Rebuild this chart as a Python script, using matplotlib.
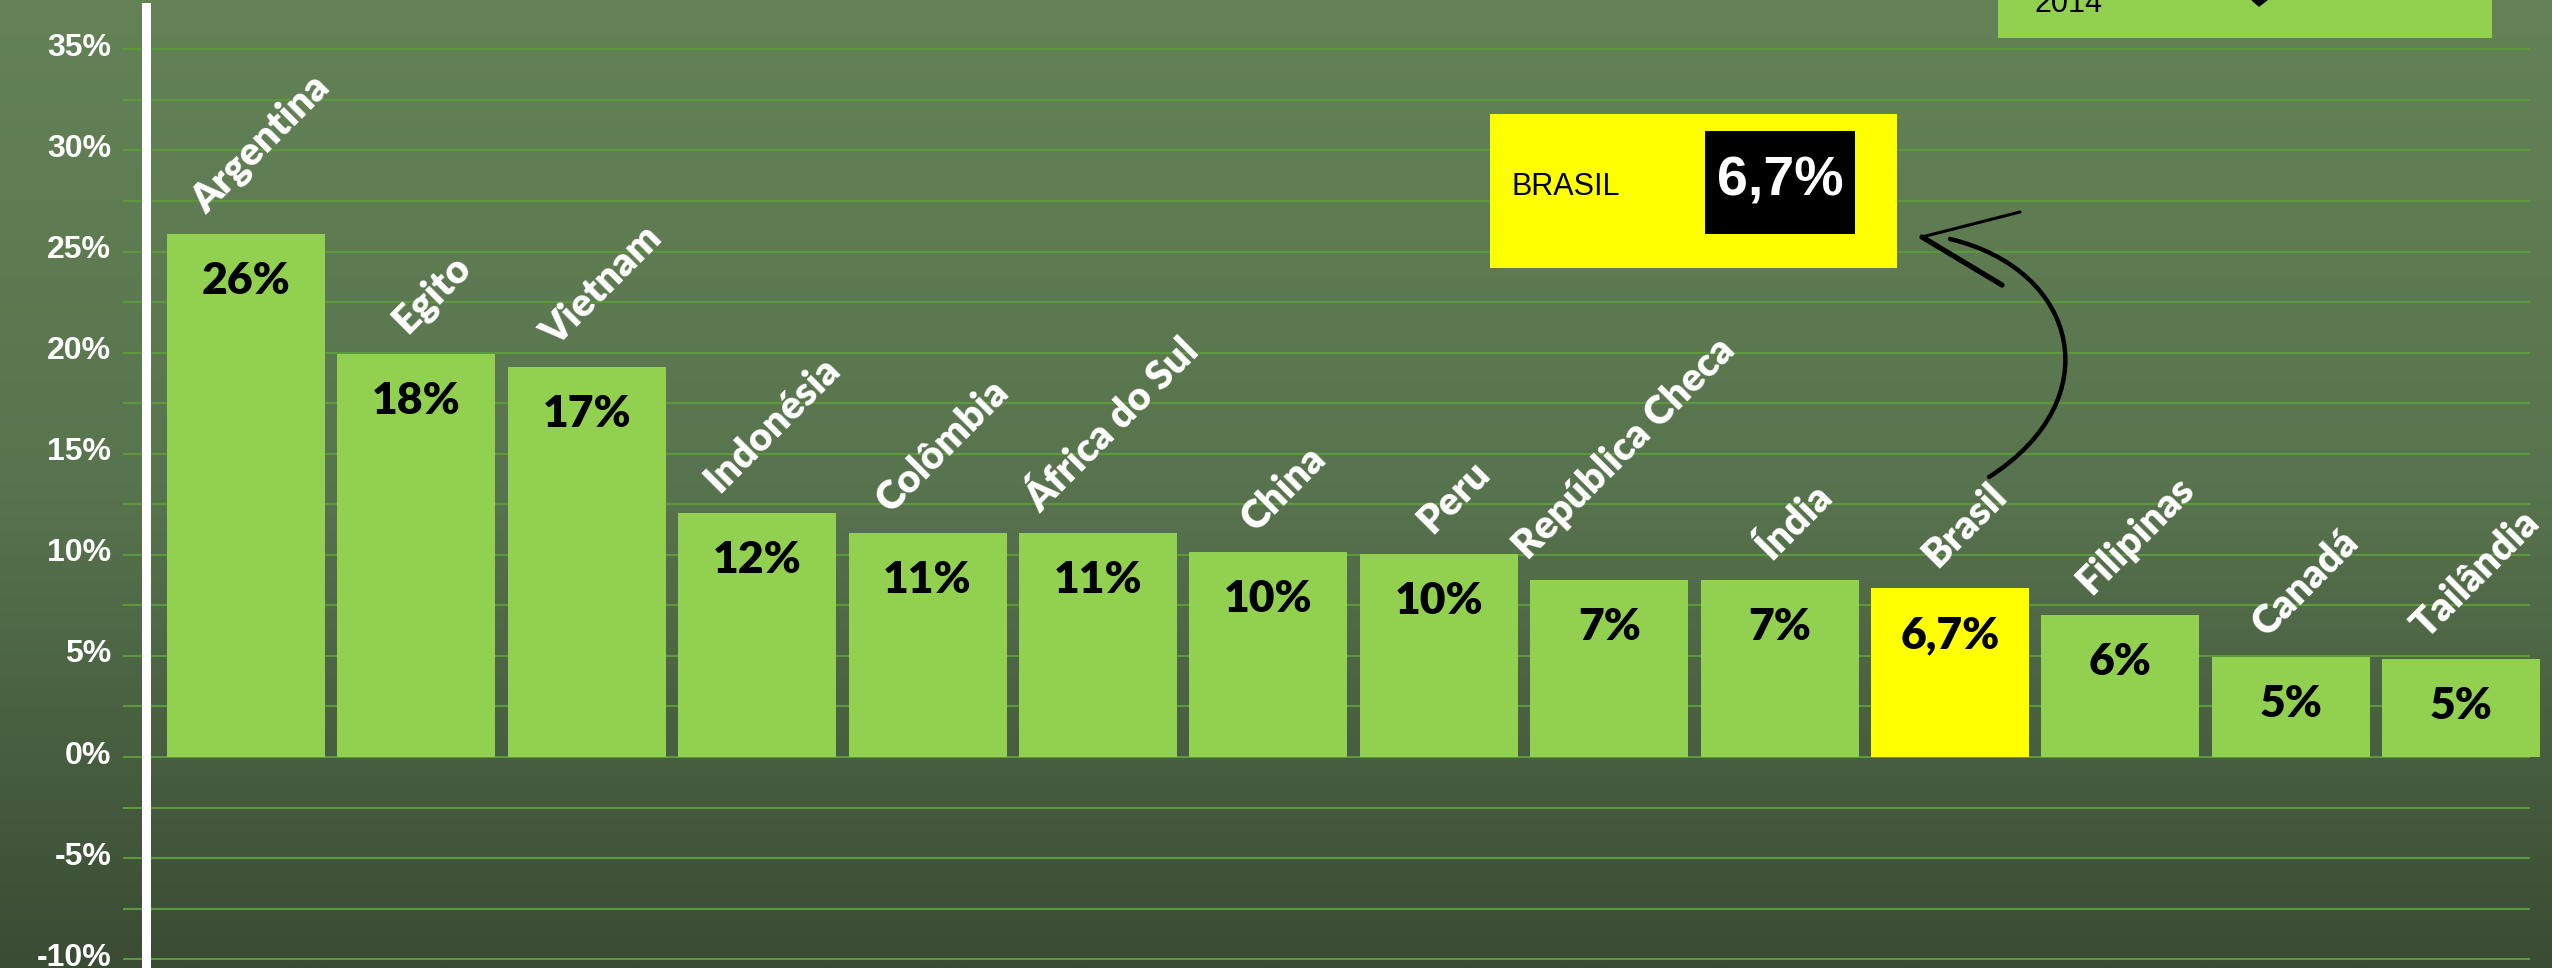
import numpy as np
import matplotlib
matplotlib.use("Agg")
import matplotlib.pyplot as plt
from matplotlib.patches import Rectangle, PathPatch, Polygon
from matplotlib.path import Path
from matplotlib.lines import Line2D
from matplotlib.transforms import ScaledTranslation

# ---------------- data ----------------
categories = ["Argentina", "Egito", "Vietnam", "Indonésia", "Colômbia", "África do Sul",
              "China", "Peru", "República Checa", "Índia", "Brasil", "Filipinas",
              "Canadá", "Tailândia"]
bar_heights = [25.85, 19.95, 19.3, 12.05, 11.1, 11.1, 10.12, 10.05, 8.75, 8.75, 8.36,
               7.0, 4.93, 4.84]
value_labels = ["26%", "18%", "17%", "12%", "11%", "11%", "10%", "10%", "7%", "7%",
                "6,7%", "6%", "5%", "5%"]
highlight = "Brasil"
y_ticks = [-10, -5, 0, 5, 10, 15, 20, 25, 30, 35]
y_tick_labels = [f"{v}%" for v in y_ticks]
callout_country = "BRASIL"
callout_value = "6,7%"
corner_text = "2014"

# ---------------- figure ----------------
W, H = 2552, 968
DPI = 100
PT = 72 / DPI  # points per pixel
fig = plt.figure(figsize=(W / DPI, H / DPI), dpi=DPI)

# background gradient
bg = fig.add_axes([0, 0, 1, 1], zorder=0)
t = np.linspace(0, 1, 500)
stops = [0.0, 0.5, 1.0]
cols = np.array([[100, 130, 86], [88, 116, 78], [58, 76, 52]]) / 255.0
grad = np.stack([np.interp(t, stops, cols[:, k]) for k in range(3)], axis=-1)
grad = np.repeat(grad[:, None, :], 4, axis=1)
bg.imshow(grad, aspect="auto", extent=[0, 1, 0, 1], origin="upper")
bg.set_xlim(0, 1)
bg.set_ylim(0, 1)
bg.axis("off")

# main axes
left_px = 146
x0_px, step_px = 246.0, 170.4
zero_px, unit_px = 757.0, 20.22
ax = fig.add_axes([left_px / W, 0, (W - left_px) / W, 1], zorder=1)
ax.patch.set_alpha(0)
ax.set_xlim((left_px - x0_px) / step_px, (W - x0_px) / step_px)
ax.set_ylim(-(H - zero_px) / unit_px, zero_px / unit_px)

for s in ["top", "right", "bottom"]:
    ax.spines[s].set_visible(False)
ax.spines["left"].set_color("white")
ax.spines["left"].set_linewidth(9 * PT)
ax.spines["left"].set_bounds(-(H - zero_px) / unit_px, (zero_px - 7) / unit_px)
ax.spines["left"].set_zorder(2.5)

ax.set_xticks([])
ax.set_yticks(y_ticks, y_tick_labels)
ax.tick_params(axis="y", length=0, pad=25, labelcolor="white", labelsize=23)
shift = ScaledTranslation(0, 5 / DPI, fig.dpi_scale_trans)
for tk in ax.yaxis.get_major_ticks():
    tk.label1.set_fontfamily("Liberation Sans")
    tk.label1.set_fontweight("bold")
    tk.label1.set_transform(tk.label1.get_transform() + shift)

# gridlines
ax.hlines(np.arange(-10, 35.01, 2.5), (123 - x0_px) / step_px, (2530 - x0_px) / step_px,
          colors="#5b9a3c", linewidth=1.5, zorder=1, clip_on=False)

x = np.arange(len(categories))
colors = ["#ffff00" if c == highlight else "#92d050" for c in categories]
ax.bar(x, bar_heights, width=0.927, color=colors, zorder=3)

for i, (h, v, c) in enumerate(zip(bar_heights, value_labels, categories)):
    ax.annotate(v, (x[i], h), xytext=(0, -47 * PT), textcoords="offset points",
                ha="center", va="center", fontsize=32, fontweight="heavy",
                family="Lato", color="black", zorder=4)
    ax.annotate(c, (x[i], h), xytext=(15 * PT, 14 * PT), textcoords="offset points",
                ha="center", va="bottom", rotation=45, fontsize=28.5,
                fontweight="heavy", family="Lato", color="white", zorder=4)

# overlay in pixel coordinates
ov = fig.add_axes([0, 0, 1, 1], zorder=3)
ov.patch.set_alpha(0)
ov.set_xlim(0, W)
ov.set_ylim(H, 0)
ov.axis("off")

# callout box
ov.add_patch(Rectangle((1490, 114), 407, 154, facecolor="#ffff00", edgecolor="none"))
ov.add_patch(Rectangle((1705, 131), 150, 103, facecolor="black", edgecolor="none"))
ov.text(1512, 187, callout_country, ha="left", va="center", fontsize=22,
        family="Liberation Sans", color="black")
ov.text(1780, 182, callout_value, ha="center", va="center", fontsize=40,
        fontweight="bold", family="Liberation Sans", color="white")

# corner box (cut off at top)
ov.add_patch(Rectangle((1998, -10), 494, 48, facecolor="#92d050", edgecolor="none"))
ov.text(2034, 12, corner_text, ha="left", va="baseline", fontsize=22,
        family="Liberation Sans", color="black")
ov.add_patch(Polygon([(2252, 0), (2259, 6), (2267, 0)], closed=True,
                     facecolor="black", edgecolor="black"))

# hand-drawn curved arrow
verts = [(1989, 477), (2110, 400), (2080, 270), (1950, 239)]
codes = [Path.MOVETO, Path.CURVE4, Path.CURVE4, Path.CURVE4]
ov.add_patch(PathPatch(Path(verts, codes), facecolor="none", edgecolor="black",
                       linewidth=3.2, capstyle="round"))
ov.add_line(Line2D([1922, 2002], [237, 285], color="black", linewidth=3.8,
                   solid_capstyle="round"))
ov.add_line(Line2D([1922, 2020], [237, 212], color="black", linewidth=2.2,
                   solid_capstyle="round"))

fig.savefig("out.png", dpi=DPI)
